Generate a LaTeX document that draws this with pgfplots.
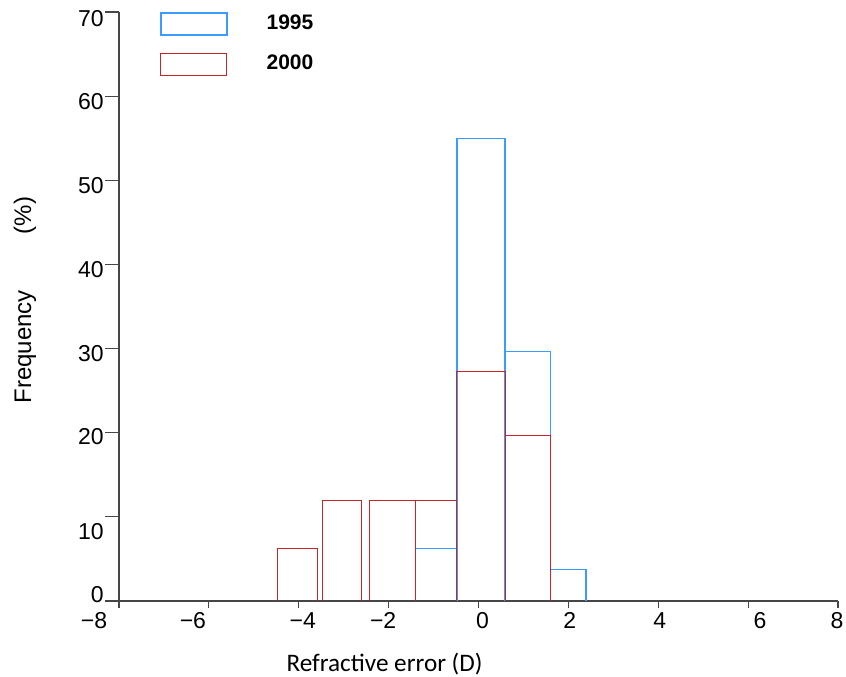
\documentclass[border=0pt]{standalone}
\usepackage{fontspec}
\setmainfont{Liberation Sans}
\newfontfamily\calfont{Carlito}
\usepackage{pgfplots}
\pgfplotsset{compat=1.18}
\definecolor{cblue}{RGB}{60,155,255}
\definecolor{cred}{RGB}{200,35,40}
\definecolor{axgray}{RGB}{70,70,70}
\newcommand\yl[2]{\raisebox{#1}[0pt][0pt]{#2}}
\newcommand\xl[2]{\makebox[0pt]{\hspace*{#1}#2}}
\begin{document}
\begin{tikzpicture}
\begin{axis}[
  name=ax,
  scale only axis,
  width=359.5pt, height=294.5pt,
  xmin=-8, xmax=8, ymin=0, ymax=70,
  axis x line*=bottom, axis y line*=left,
  axis line style={-, axgray, line width=0.6pt},
  tick align=outside,
  major tick length=7pt,
  tick style={axgray, line width=0.6pt},
  xtick style={yscale=0.5},
  xtick={-8,-6,...,8},
  xticklabels={\xl{-25pt}{−8},\xl{-16pt}{−6},\xl{4pt}{−4},\xl{-5.5pt}{−2},\xl{4pt}{0},\xl{1.5pt}{2},\xl{1.5pt}{4},\xl{12pt}{6},\xl{-1pt}{8}},
  ytick={0,10,...,70},
  yticklabels={\yl{-0.5pt}{0},\yl{-11.5pt}{10},\yl{-6pt}{20},\yl{-6.5pt}{30},\yl{-6.5pt}{40},\yl{-6.5pt}{50},\yl{-6.5pt}{60},\yl{-7.25pt}{70}},
  ticklabel style={font=\fontsize{11.5}{12}\selectfont, inner sep=0pt},
  xticklabel style={anchor=north, yshift=1.5pt},
  yticklabel style={anchor=east, xshift=-0.5pt},
  xlabel={\calfont Refractive error (D)},
  xlabel style={at={(rel axis cs:0.3693,-0.0883)}, anchor=north, inner sep=0pt, font=\fontsize{12.6}{13}\selectfont},
  ylabel={Frequency\hspace*{28pt}(\%)},
  ylabel style={at={(rel axis cs:-0.1307,0.511)}, anchor=center, inner sep=0pt, font=\fontsize{12}{13}\selectfont},
  legend image code/.code={\draw[#1] (0pt,-5.5pt) rectangle (33pt,5.5pt);},
  legend style={at={(rel axis cs:0.057,1)}, anchor=north west, draw=none, fill=none,
    inner sep=0pt, row sep=8.5pt, column sep=19.5pt,
    nodes={inner sep=0pt, anchor=west}, font=\bfseries\fontsize{10.5}{12}\selectfont},
  legend cell align=left,
  clip=false,
]
\addlegendimage{cblue, line width=0.6pt}
\addlegendentry{1995}
\addlegendimage{cred, line width=0.5pt}
\addlegendentry{2000}
% 1995
\addplot[cblue, line width=0.6pt, forget plot] coordinates {(-1.41,0) (-1.41,6.2) (-0.48,6.2) (-0.48,0)};
\addplot[cblue, line width=0.6pt, forget plot] coordinates {(-0.48,0) (-0.48,55) (0.59,55) (0.59,0)};
\addplot[cblue, line width=0.6pt, forget plot] coordinates {(0.59,0) (0.59,29.7) (1.61,29.7) (1.61,0)};
\addplot[cblue, line width=0.6pt, forget plot] coordinates {(1.61,0) (1.61,3.7) (2.39,3.7) (2.39,0)};
% 2000
\addplot[cred, line width=0.5pt, forget plot] coordinates {(-4.48,0) (-4.48,6.2) (-3.58,6.2) (-3.58,0)};
\addplot[cred, line width=0.5pt, forget plot] coordinates {(-3.47,0) (-3.47,12) (-2.60,12) (-2.60,0)};
\addplot[cred, line width=0.5pt, forget plot] coordinates {(-2.42,0) (-2.42,12) (-1.41,12) (-1.41,0)};
\addplot[cred, line width=0.5pt, forget plot] coordinates {(-1.41,0) (-1.41,12) (-0.48,12) (-0.48,0)};
\addplot[cred, line width=0.5pt, forget plot] coordinates {(-0.48,0) (-0.48,27.3) (0.59,27.3) (0.59,0)};
\addplot[cred, line width=0.5pt, forget plot] coordinates {(0.59,0) (0.59,19.7) (1.61,19.7) (1.61,0)};
\end{axis}
\pgfresetboundingbox
\path[use as bounding box] ([shift={(-59.5pt,-37.5pt)}]ax.south west) rectangle ([shift={(363.5pt,300.5pt)}]ax.south west);
\end{tikzpicture}
\end{document}
